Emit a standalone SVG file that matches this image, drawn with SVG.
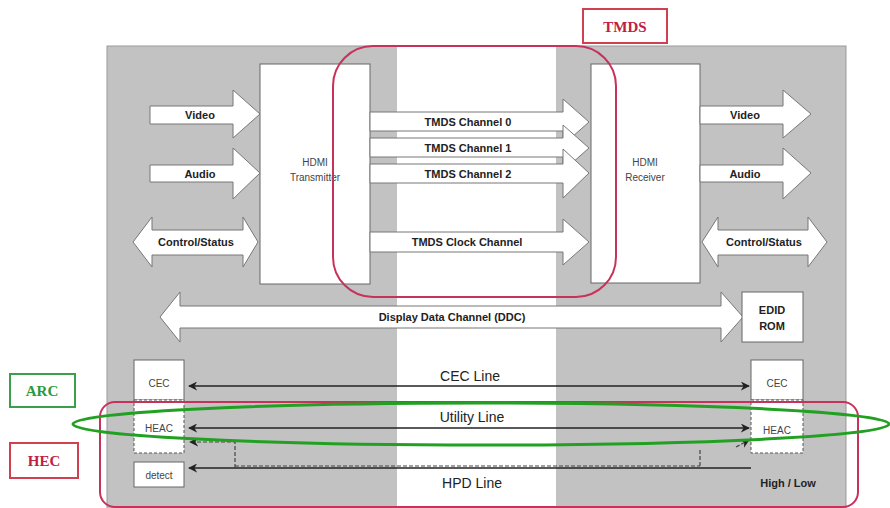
<svg xmlns="http://www.w3.org/2000/svg" width="890" height="508" viewBox="0 0 890 508">
<defs>
<style>
.big{fill:#fff;stroke:#777;stroke-width:1}
.box{fill:#fff;stroke:#666;stroke-width:1}
.dbox{fill:#fff;stroke:#555;stroke-width:1;stroke-dasharray:3 2}
.lb{font-family:"Liberation Sans",Arial,sans-serif;font-weight:bold;font-size:11px;fill:#222;text-anchor:middle}
.ls{font-family:"Liberation Sans",Arial,sans-serif;font-size:10px;fill:#444;text-anchor:middle}
.ll{font-family:"Liberation Sans",Arial,sans-serif;font-size:14px;fill:#222;text-anchor:middle}
.tag{font-family:"Liberation Serif","Times New Roman",serif;font-weight:bold;font-size:15px;text-anchor:middle}
.line{stroke:#222;stroke-width:1.6;fill:none}
.dash{stroke:#444;stroke-width:1.2;fill:none;stroke-dasharray:4 2}
</style>
<marker id="ah" viewBox="0 0 10 10" refX="9" refY="5" markerWidth="9" markerHeight="9" markerUnits="userSpaceOnUse" orient="auto-start-reverse">
<path d="M0,0 L10,5 L0,10 L3,5 z" fill="#222"/>
</marker>
</defs>

<rect x="107" y="46" width="739" height="470" fill="#c2c2c2" stroke="#999" stroke-width="1"/>
<rect x="397" y="46" width="159" height="470" fill="#fff"/>

<g id="transmitter">
<rect class="box" x="260" y="64" width="110" height="220"/>
<text class="ls" x="315" y="166">HDMI</text>
<text class="ls" x="315" y="181">Transmitter</text>
</g>
<g id="receiver">
<rect class="box" x="591" y="64" width="109" height="219"/>
<text class="ls" x="645" y="166">HDMI</text>
<text class="ls" x="645" y="181">Receiver</text>
</g>

<g id="connectors">
<g id="tx-inputs">
<polygon class="big" points="150,106 233,106 233,90 260,114 233,138 233,124 150,124"/>
<text class="lb" x="200" y="119">Video</text>
<polygon class="big" points="150,165 233,165 233,148 260,173 233,199 233,182 150,182"/>
<text class="lb" x="200" y="178">Audio</text>
<polygon class="big" points="133,242 152,217 152,230 243,230 243,217 258,242 243,267 243,255 152,255 152,267"/>
<text class="lb" x="196" y="246">Control/Status</text>
</g>
<g id="tmds-channels">
<polygon class="big" points="370,112 563,112 563,99 589,122 563,145 563,131 370,131"/>
<text class="lb" x="468" y="126">TMDS Channel 0</text>
<polygon class="big" points="370,138 563,138 563,125 589,148 563,171 563,157 370,157"/>
<text class="lb" x="468" y="152">TMDS Channel 1</text>
<polygon class="big" points="370,164 563,164 563,149 589,173 563,198 563,183 370,183"/>
<text class="lb" x="468" y="178">TMDS Channel 2</text>
<polygon class="big" points="370,232 563,232 563,219 589,242 563,265 563,252 370,252"/>
<text class="lb" x="467" y="246">TMDS Clock Channel</text>
</g>
<g id="rx-outputs">
<polygon class="big" points="700,106 783,106 783,90 811,114 783,138 783,124 700,124"/>
<text class="lb" x="745" y="119">Video</text>
<polygon class="big" points="700,165 783,165 783,148 811,173 783,199 783,182 700,182"/>
<text class="lb" x="745" y="178">Audio</text>
<polygon class="big" points="702,242 718,217 718,230 808,230 808,217 827,242 808,267 808,255 718,255 718,267"/>
<text class="lb" x="764" y="246">Control/Status</text>
</g>
<g id="ddc">
<polygon class="big" points="160,317 180,292 180,306 721,306 721,292 743,317 721,342 721,328 180,328 180,342"/>
<text class="lb" x="452" y="321">Display Data Channel (DDC)</text>
</g>
<g id="lines">
<line class="line" x1="189" y1="386" x2="749" y2="386" marker-start="url(#ah)" marker-end="url(#ah)"/>
<text class="ll" x="470" y="381">CEC Line</text>
<line class="line" x1="189" y1="428" x2="749" y2="428" marker-start="url(#ah)" marker-end="url(#ah)"/>
<text class="ll" x="472" y="422">Utility Line</text>
<line class="line" x1="189" y1="468" x2="751" y2="468" marker-start="url(#ah)"/>
<path class="dash" d="M235,468 L235,442 L190,442" marker-end="url(#ah)"/>
<path class="dash" d="M235,466 L700,466"/>
<path class="dash" d="M700,466 L700,450"/>
<path class="dash" d="M736,447 L749,440" marker-end="url(#ah)"/>
<text class="ll" x="472" y="488">HPD Line</text>
<text class="lb" x="788" y="487">High / Low</text>
</g>
</g>

<g id="edid">
<rect class="box" x="742" y="292" width="61" height="50"/>
<text class="lb" x="772" y="314">EDID</text>
<text class="lb" x="772" y="330">ROM</text>
</g>
<g id="cec-left">
<rect class="box" x="134" y="360" width="50" height="40"/>
<text class="ls" x="159" y="387">CEC</text>
</g>
<g id="heac-left">
<rect class="dbox" x="134" y="400" width="50" height="53"/>
<text class="ls" x="159" y="432">HEAC</text>
</g>
<g id="detect">
<rect class="box" x="134" y="462" width="50" height="25"/>
<text class="ls" x="159" y="479">detect</text>
</g>
<g id="cec-right">
<rect class="box" x="751" y="360" width="52" height="40"/>
<text class="ls" x="777" y="387">CEC</text>
</g>
<g id="heac-right">
<rect class="dbox" x="751" y="400" width="52" height="53"/>
<text class="ls" x="777" y="434">HEAC</text>
</g>

<g id="tmds-group">
<rect x="333" y="46" width="283" height="251" rx="40" ry="40" fill="none" stroke="#c8325a" stroke-width="2"/>
</g>
<g id="tmds-label">
<rect x="583" y="9" width="84" height="34" fill="#fff" stroke="#d04050" stroke-width="2"/>
<text class="tag" x="625" y="32" fill="#c02040">TMDS</text>
</g>
<g id="hec-group">
<rect x="100" y="402" width="758" height="105" rx="15" ry="15" fill="none" stroke="#c8325a" stroke-width="2"/>
</g>
<g id="hec-label">
<rect x="10" y="443" width="68" height="35" fill="#fff" stroke="#d04050" stroke-width="2"/>
<text class="tag" x="44" y="466" fill="#c02040">HEC</text>
</g>
<g id="arc-group">
<ellipse cx="481" cy="424" rx="408" ry="21" fill="none" stroke="#22a022" stroke-width="3"/>
</g>
<g id="arc-label">
<rect x="10" y="374" width="65" height="33" fill="#fff" stroke="#3aa04a" stroke-width="2"/>
<text class="tag" x="42" y="396" fill="#2a9a3a">ARC</text>
</g>
</svg>
